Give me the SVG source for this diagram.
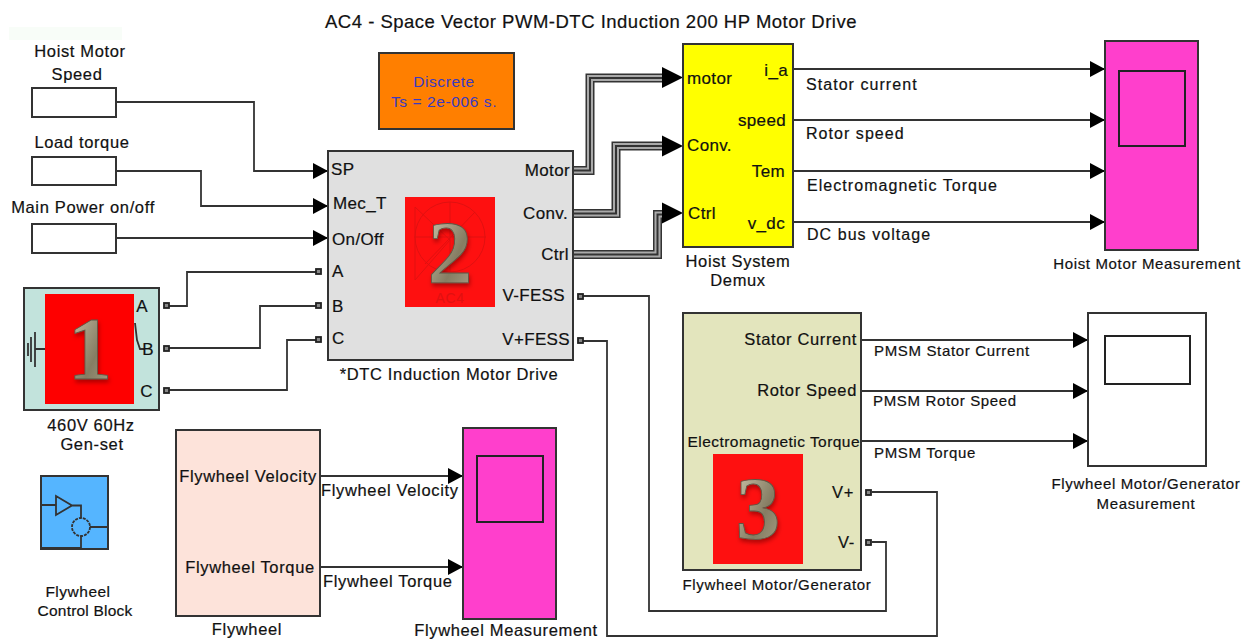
<svg xmlns="http://www.w3.org/2000/svg" width="1246" height="639" viewBox="0 0 1246 639">
<style>
text{font-family:"Liberation Sans",Arial,sans-serif;font-size:16.500px;fill:#111;letter-spacing:.65px;stroke:#111;stroke-width:.2}
.m{text-anchor:middle}.e{text-anchor:end}
.p{font-size:17px;letter-spacing:.35px}
.l{font-size:16px;letter-spacing:1.050px}
.s{font-size:15px;letter-spacing:.65px}
.b{stroke:#333;stroke-width:2}
.w{fill:none;stroke:#333;stroke-width:1.8}
.num{font-family:"Liberation Serif",serif;font-weight:bold;font-size:89px;letter-spacing:0;text-anchor:middle;fill:url(#gold);stroke:#5d5745;stroke-width:.8;filter:url(#sh)}
.port{fill:#888;stroke:#222;stroke-width:1.8}
.scr{fill:none;stroke:#222;stroke-width:2}
.o{stroke:none;fill:#3a3ac0;font-size:15.500px;letter-spacing:.6px}
</style>
<defs>
<marker id="a" markerUnits="userSpaceOnUse" markerWidth="16" markerHeight="16" refX="15" refY="8" orient="auto"><path d="M0 0L15 8L0 16Z" fill="#000"/></marker>
<linearGradient id="gold" x1="0" y1="0" x2="1" y2="1"><stop offset="0" stop-color="#d3ccb2"/><stop offset=".6" stop-color="#857d63"/><stop offset="1" stop-color="#a9a288"/></linearGradient>
<filter id="sh" x="-30%" y="-30%" width="160%" height="160%"><feDropShadow dx="1" dy="3" stdDeviation="2" flood-color="#700" flood-opacity=".6"/></filter>
<path id="bh" d="M0 0L21 10.500L0 21Z" fill="#000"/>
</defs>
<rect x="9" y="27" width="113" height="13" fill="#f8fdf8"/>
<text x="591" y="28" class="m" style="font-size:18.500px;letter-spacing:.5px">AC4 - Space Vector PWM-DTC Induction 200 HP Motor Drive</text>
<g id="connectors">
<path class="w" marker-end="url(#a)" d="M116 102H254V171H328"/>
<path class="w" marker-end="url(#a)" d="M116 171H201V206H328"/>
<path class="w" marker-end="url(#a)" d="M116 238H328"/>
<path class="w" d="M167 306H187V272H318"/><path class="w" d="M167 348H260V306H318"/><path class="w" d="M167 390H287V340H318"/>
<g fill="none" stroke="#333" stroke-width="9"><path id="b1" d="M573 170.500H590V78H664"/><path id="b2" d="M573 213.500H616V146H664"/><path id="b3" d="M573 254.500H657.500V214.500H664"/></g>
<g fill="none" stroke="#aaa" stroke-width="6"><path d="M573 170.500H590V78H664"/><path d="M573 213.500H616V146H664"/><path d="M573 254.500H657.500V214.500H664"/></g>
<g fill="none" stroke="#333" stroke-width="2"><path d="M573 170.500H590V78H664"/><path d="M573 213.500H616V146H664"/><path d="M573 254.500H657.500V214.500H664"/></g>
<use href="#bh" x="662" y="67"/><use href="#bh" x="662" y="135.500"/><use href="#bh" x="662" y="202.500"/>
<path class="w" marker-end="url(#a)" d="M793 69H1105"/><path class="w" marker-end="url(#a)" d="M793 120H1105"/><path class="w" marker-end="url(#a)" d="M793 171H1105"/><path class="w" marker-end="url(#a)" d="M793 222H1105"/>
<path class="w" marker-end="url(#a)" d="M861 340H1088"/><path class="w" marker-end="url(#a)" d="M861 391H1088"/><path class="w" marker-end="url(#a)" d="M861 441H1088"/>
<path class="w" marker-end="url(#a)" d="M320 476H463"/><path class="w" marker-end="url(#a)" d="M320 567H463"/>
<path class="w" d="M583 296H649V611H886V542H872"/><path class="w" d="M583 341H607V636H937V492H872"/>
</g>
<g id="orange"><rect x="379" y="53" width="135" height="76" fill="#ff7f00" class="b"/><text x="444" y="87" class="m o">Discrete</text><text x="444" y="107" class="m o">Ts = 2e-006 s.</text></g>
<g id="hoist-speed"><text x="80" y="57" class="m">Hoist Motor</text><text x="77" y="80" class="m">Speed</text><rect x="32" y="88" width="84" height="29" fill="#fff" class="b"/></g>
<g id="load-torque"><text x="82" y="148" class="m">Load torque</text><rect x="32" y="157" width="84" height="28" fill="#fff" class="b"/></g>
<g id="main-power"><text x="83" y="213" class="m">Main Power on/off</text><rect x="32" y="224" width="84" height="29" fill="#fff" class="b"/></g>
<g id="genset"><rect x="24" y="288" width="135" height="122" fill="#c2e3dc" class="b"/>
<path class="w" d="M45 349H35M35 332V367M31 337V362M28 343V356M135 323L137 340L140 349H144"/>
<rect x="45" y="294" width="89" height="110" fill="#fe0000"/><text x="90" y="378" class="num">1</text>
<text x="148" y="312" class="e p">A</text><text x="154" y="355" class="e p">B</text><text x="153" y="397" class="e p">C</text>
<rect x="164" y="303" width="5" height="5" class="port"/><rect x="164" y="346" width="5" height="5" class="port"/><rect x="164" y="388" width="5" height="5" class="port"/>
<text x="91" y="431" class="m">460V 60Hz</text><text x="92" y="450" class="m">Gen-set</text></g>
<g id="dtc-drive"><rect x="328" y="151" width="245" height="209" fill="#e0e0e0" class="b"/>
<rect x="405" y="197" width="90" height="110" fill="#fe1010"/><g fill="none" stroke="#e01010"><circle cx="450" cy="237" r="35"/><path d="M415 207V280L450 240ZM414 237H486M450 202V272M425 264L475 212"/></g>
<text x="450" y="303" class="m" style="fill:#e01010;stroke:none;font-size:14px">AC4</text><text x="450" y="282" class="num">2</text>
<text x="331" y="175" class="p">SP</text><text x="333" y="209" class="p">Mec_T</text><text x="332" y="245" class="p">On/Off</text><text x="332" y="277" class="p">A</text><text x="332" y="312" class="p">B</text><text x="332" y="344" class="p">C</text>
<text x="570" y="176" class="e p">Motor</text><text x="568" y="219" class="e p">Conv.</text><text x="569" y="260" class="e p">Ctrl</text><text x="565" y="301" class="e p">V-FESS</text><text x="570" y="345" class="e p">V+FESS</text>
<rect x="578" y="294" width="5" height="5" class="port"/><rect x="578" y="338" width="5" height="5" class="port"/>
<rect x="316" y="269" width="5" height="5" class="port"/><rect x="316" y="303" width="5" height="5" class="port"/><rect x="316" y="337" width="5" height="5" class="port"/>
<text x="449" y="380" class="m">*DTC Induction Motor Drive</text></g>
<g id="hoist-demux"><rect x="683" y="44" width="110" height="203" fill="#ffff00" class="b"/>
<text x="687" y="84" class="p">motor</text><text x="687" y="151" class="p">Conv.</text><text x="688" y="219" class="p">Ctrl</text>
<text x="788" y="76" class="e p">i_a</text><text x="786" y="126" class="e p">speed</text><text x="785" y="177" class="e p">Tem</text><text x="785" y="229" class="e p">v_dc</text>
<text x="738" y="267" class="m">Hoist System</text><text x="738" y="286" class="m">Demux</text></g>
<g id="hoist-labels"><text x="806" y="90" class="l">Stator current</text><text x="806" y="139" class="l">Rotor speed</text><text x="807" y="191" class="l">Electromagnetic Torque</text><text x="807" y="240" class="l">DC bus voltage</text></g>
<g id="hoist-scope"><rect x="1105" y="41" width="93" height="209" fill="#ff3fcc" class="b"/><rect x="1119" y="71" width="66" height="75" class="scr"/><text x="1147" y="269" class="m s">Hoist Motor Measurement</text></g>
<g id="pmsm"><rect x="683" y="313" width="178" height="257" fill="#e3e5bd" class="b"/>
<rect x="713" y="454" width="90" height="110" fill="#fe1010"/><text x="758" y="538" class="num">3</text>
<text x="857" y="345" class="e">Stator Current</text><text x="857" y="396" class="e">Rotor Speed</text><text x="860" y="447" class="e" style="font-size:15.500px;letter-spacing:.45px">Electromagnetic Torque</text><text x="854" y="498" class="e">V+</text><text x="855" y="548" class="e">V-</text>
<rect x="866" y="490" width="5" height="5" class="port"/><rect x="866" y="540" width="5" height="5" class="port"/>
<text x="777" y="590" class="m s">Flywheel Motor/Generator</text></g>
<g id="pmsm-labels"><text x="874" y="356" class="s">PMSM Stator Current</text><text x="873" y="406" class="s">PMSM Rotor Speed</text><text x="874" y="458" class="s">PMSM Torque</text></g>
<g id="fly-scope"><rect x="1088" y="313" width="118" height="153" fill="#fff" class="b"/><rect x="1105" y="336" width="85" height="48" class="scr"/><text x="1146" y="489" class="m s">Flywheel Motor/Generator</text><text x="1146" y="509" class="m s">Measurement</text></g>
<g id="control"><rect x="41" y="476" width="67" height="73" fill="#55b5ff" class="b"/><path class="w" d="M41 505H56M56 496L72 505.500L56 515ZM72 505.500H81V518M81 536V548H41M90 527H108"/><circle cx="81" cy="527" r="9" class="w" stroke-dasharray="3 1"/><text x="78" y="597" class="m" style="font-size:15.500px;letter-spacing:.5px">Flywheel</text><text x="85" y="616" class="m" style="font-size:15.500px;letter-spacing:.2px">Control Block</text></g>
<g id="flywheel"><rect x="176" y="430" width="144" height="186" fill="#fde3da" class="b"/><text x="248" y="482" class="m">Flywheel Velocity</text><text x="250" y="573" class="m">Flywheel Torque</text><text x="247" y="635" class="m">Flywheel</text></g>
<g id="fly-meas"><rect x="463" y="428" width="93" height="191" fill="#ff3fcc" class="b"/><rect x="477" y="456" width="66" height="66" class="scr"/><text x="506" y="636" class="m">Flywheel Measurement</text></g>
<g id="fly-labels"><text x="321" y="496">Flywheel Velocity</text><text x="323" y="587">Flywheel Torque</text></g>
</svg>
